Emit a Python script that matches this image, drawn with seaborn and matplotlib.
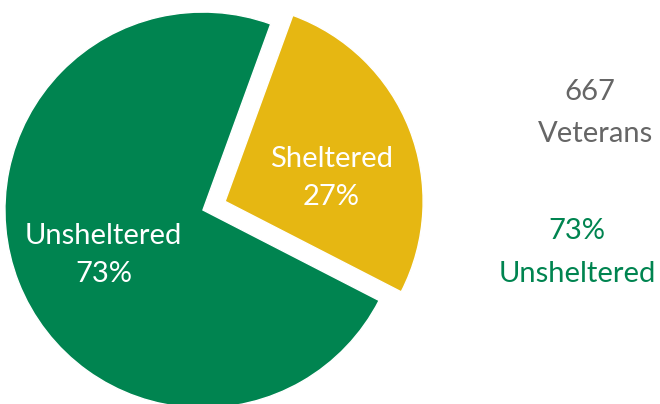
import matplotlib
matplotlib.use("Agg")
import numpy as np
import matplotlib.pyplot as plt
import seaborn as sns

# data
categories = ["Sheltered", "Unsheltered"]
shares = [27, 73]
total_veterans = 667
colors = ["#E6B712", "#008450"]

sns.set_theme(style="white")
plt.rcParams["font.family"] = ["Lato", "DejaVu Sans"]

fig = plt.figure(figsize=(6.6, 4.04), dpi=100)
ax = fig.add_axes([0, 0, 1, 1])

wedges, _ = ax.pie(
    shares,
    colors=colors,
    startangle=70,
    counterclock=False,
    explode=[0.12, 0],
    radius=1,
)

# labels inside the wedges, a little off the mid angle like the original
label_shift = [-9, 3]
for w, c, v, s in zip(wedges, categories, shares, label_shift):
    ang = np.deg2rad((w.theta1 + w.theta2) / 2 + s)
    cx, cy = w.center
    ax.text(cx + 0.55 * np.cos(ang), cy + 0.55 * np.sin(ang), f"{c}\n{v}%",
            ha="center", va="center", multialignment="center", linespacing=1.6,
            color="white", fontsize=21)

# keep ~198 px per unit in both directions
ax.set_xlim(-1.025, 2.308)
ax.set_ylim(-0.98, 1.061)
ax.set_aspect("auto")
ax.axis("off")

grey = "#666666"
kw = dict(ha="center", va="center", fontsize=21)
fig.text(0.894, 0.773, f"{total_veterans}", color=grey, **kw)
fig.text(0.902, 0.668, "Veterans", color=grey, **kw)
fig.text(0.874, 0.427, f"{shares[1]}%", color=colors[1], **kw)
fig.text(0.874, 0.322, categories[1], color=colors[1], **kw)

fig.savefig("out.png", dpi=100)
